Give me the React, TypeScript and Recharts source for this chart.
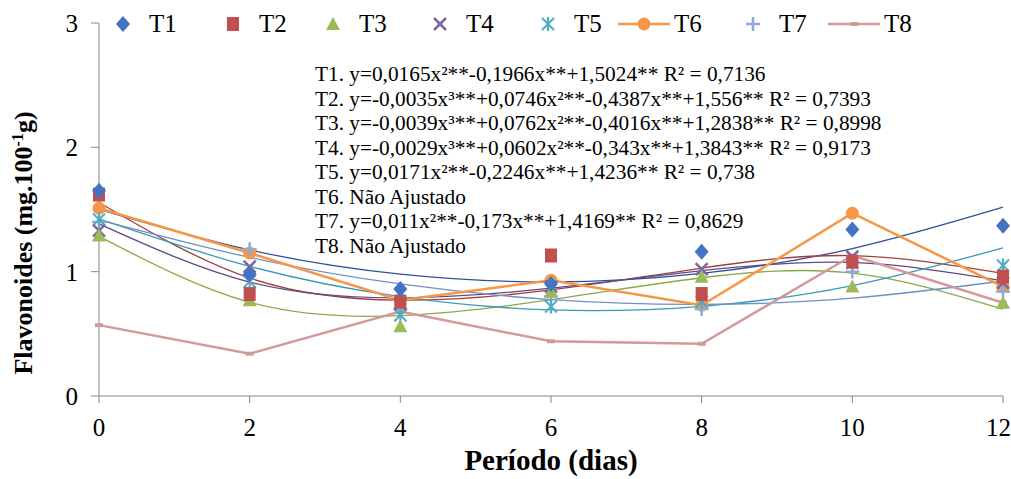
import React from "react";
import { LineChart, Line, XAxis, YAxis } from "recharts";

// sampling days
const days = [0, 2, 4, 6, 8, 10, 12];

// observed values (mg.100-1g)
const t1 = [1.65, 0.98, 0.86, 0.9, 1.16, 1.34, 1.37];
const t2 = [1.62, 0.82, 0.76, 1.13, 0.82, 1.08, 0.96];
const t3 = [1.29, 0.77, 0.56, 0.84, 0.96, 0.88, 0.75];
const t4 = [1.33, 1.04, 0.74, 0.88, 1.02, 1.12, 0.91];
const t5 = [1.42, 0.92, 0.65, 0.72, 0.76, 1.07, 1.05];
const t6 = [1.51, 1.15, 0.77, 0.93, 0.73, 1.47, 0.88];
const t7 = [1.4, 1.18, 0.7, 0.8, 0.7, 1.0, 0.84];
const t8 = [0.57, 0.34, 0.68, 0.44, 0.42, 1.13, 0.75];

// fitted values at each day, from the equations printed on the chart
const t1Fit = [1.502, 1.175, 0.98, 0.917, 0.986, 1.186, 1.519];
const t2Fit = [1.556, 0.949, 0.771, 0.853, 1.029, 1.129, 0.986];
const t3Fit = [1.284, 0.754, 0.647, 0.775, 0.951, 0.988, 0.698];
const t4Fit = [1.384, 0.916, 0.79, 0.867, 1.008, 1.074, 0.926];
const t5Fit = [1.424, 1.043, 0.799, 0.692, 0.721, 0.888, 1.191];
const t7Fit = [1.417, 1.115, 0.901, 0.775, 0.737, 0.787, 0.925];

const yTicks = [0, 1, 2, 3];

const equations = [
  "T1. y=0,0165x²**-0,1966x**+1,5024** R² = 0,7136",
  "T2. y=-0,0035x³**+0,0746x²**-0,4387x**+1,556** R² = 0,7393",
  "T3. y=-0,0039x³**+0,0762x²**-0,4016x**+1,2838** R² = 0,8998",
  "T4. y=-0,0029x³**+0,0602x²**-0,343x**+1,3843** R² = 0,9173",
  "T5. y=0,0171x²**-0,2246x**+1,4236** R² = 0,738",
  "T6. Não Ajustado",
  "T7. y=0,011x²**-0,173x**+1,4169** R² = 0,8629",
  "T8. Não Ajustado",
];

const C = {
  T1: "#4472C4",
  T2: "#C0504D",
  T3: "#9BBB59",
  T4: "#8064A2",
  T5: "#4BACC6",
  T6: "#F79646",
  T7: "#8EA9DB",
  T8: "#D4999A",
};

const data = days.map((d, i) => ({
  x: d,
  T1: t1[i], T2: t2[i], T3: t3[i], T4: t4[i],
  T5: t5[i], T6: t6[i], T7: t7[i], T8: t8[i],
  T1f: t1Fit[i], T2f: t2Fit[i], T3f: t3Fit[i], T4f: t4Fit[i],
  T5f: t5Fit[i], T7f: t7Fit[i],
}));

function Marker({ kind, x, y, color }: { kind: string; x: number; y: number; color: string }) {
  switch (kind) {
    case "diamond":
      return <path d={`M${x},${y - 8}L${x + 7},${y}L${x},${y + 8}L${x - 7},${y}Z`} fill={color} />;
    case "square":
      return <rect x={x - 6} y={y - 7} width={12} height={14} fill={color} />;
    case "triangle":
      return <path d={`M${x},${y - 7}L${x + 7},${y + 6}L${x - 7},${y + 6}Z`} fill={color} />;
    case "x":
      return (
        <g stroke={color} strokeWidth={2.5}>
          <line x1={x - 6} y1={y - 6} x2={x + 6} y2={y + 6} />
          <line x1={x - 6} y1={y + 6} x2={x + 6} y2={y - 6} />
        </g>
      );
    case "star":
      return (
        <g stroke={color} strokeWidth={2}>
          <line x1={x - 6} y1={y - 6} x2={x + 6} y2={y + 6} />
          <line x1={x - 6} y1={y + 6} x2={x + 6} y2={y - 6} />
          <line x1={x} y1={y - 7} x2={x} y2={y + 7} />
        </g>
      );
    case "circle":
      return <circle cx={x} cy={y} r={6.5} fill={color} />;
    case "plus":
      return (
        <g stroke={color} strokeWidth={2.5}>
          <line x1={x - 7} y1={y} x2={x + 7} y2={y} />
          <line x1={x} y1={y - 7} x2={x} y2={y + 7} />
        </g>
      );
    case "dash":
      return <rect x={x - 4} y={y - 2} width={8} height={4} fill={color} />;
    default:
      return null;
  }
}

const dot = (kind: string, color: string) => (props: any) => {
  const { cx, cy, index } = props;
  if (cx == null || cy == null) return <g key={`d-${kind}-${index}`} />;
  return (
    <g key={`d-${kind}-${index}`}>
      <Marker kind={kind} x={cx} y={cy} color={color} />
    </g>
  );
};

const legendItems = [
  { name: "T1", kind: "diamond", x: 115 },
  { name: "T2", kind: "square", x: 225 },
  { name: "T3", kind: "triangle", x: 325 },
  { name: "T4", kind: "x", x: 432 },
  { name: "T5", kind: "star", x: 540 },
  { name: "T6", kind: "circle", x: 618, line: true },
  { name: "T7", kind: "plus", x: 745 },
  { name: "T8", kind: "dash", x: 828, line: true },
];

const serif = "'Liberation Serif', 'Times New Roman', 'DejaVu Serif', serif";

export default function App() {
  return (
    <div style={{ position: "absolute", left: 0, top: 0, width: 1011, height: 479, background: "#fff", fontFamily: serif }}>
      <LineChart width={1011} height={479} data={data} margin={{ top: 23, right: 8, bottom: 0, left: 0 }}>
        <XAxis
          dataKey="x"
          type="number"
          domain={[0, 12]}
          ticks={days}
          height={83}
          tickSize={7}
          stroke="#868686"
          tick={{ fill: "#000", fontSize: 25, fontFamily: serif }}
          tickMargin={15}
        />
        <YAxis
          domain={[0, 3]}
          ticks={yTicks}
          width={99}
          tickSize={8}
          stroke="#868686"
          tick={{ fill: "#000", fontSize: 25, fontFamily: serif }}
          tickMargin={13}
        />
        <Line dataKey="T1f" type="natural" stroke="#2F4F9A" strokeWidth={1.3} dot={false} isAnimationActive={false} />
        <Line dataKey="T2f" type="natural" stroke="#A0403F" strokeWidth={1.3} dot={false} isAnimationActive={false} />
        <Line dataKey="T3f" type="natural" stroke="#8AAA4A" strokeWidth={1.3} dot={false} isAnimationActive={false} />
        <Line dataKey="T4f" type="natural" stroke="#5E4A85" strokeWidth={1.3} dot={false} isAnimationActive={false} />
        <Line dataKey="T5f" type="natural" stroke="#3A9AB5" strokeWidth={1.3} dot={false} isAnimationActive={false} />
        <Line dataKey="T7f" type="natural" stroke="#6F8FC8" strokeWidth={1.3} dot={false} isAnimationActive={false} />
        <Line dataKey="T8" type="linear" stroke={C.T8} strokeWidth={2.5} dot={dot("dash", C.T8)} isAnimationActive={false} />
        <Line dataKey="T6" type="linear" stroke={C.T6} strokeWidth={2.5} dot={dot("circle", C.T6)} isAnimationActive={false} />
        <Line dataKey="T7" stroke="none" dot={dot("plus", C.T7)} activeDot={false} isAnimationActive={false} />
        <Line dataKey="T5" stroke="none" dot={dot("star", C.T5)} activeDot={false} isAnimationActive={false} />
        <Line dataKey="T4" stroke="none" dot={dot("x", C.T4)} activeDot={false} isAnimationActive={false} />
        <Line dataKey="T3" stroke="none" dot={dot("triangle", C.T3)} activeDot={false} isAnimationActive={false} />
        <Line dataKey="T2" stroke="none" dot={dot("square", C.T2)} activeDot={false} isAnimationActive={false} />
        <Line dataKey="T1" stroke="none" dot={dot("diamond", C.T1)} activeDot={false} isAnimationActive={false} />
      </LineChart>

      {/* legend */}
      <svg width={1011} height={45} style={{ position: "absolute", left: 0, top: 0 }}>
        {legendItems.map((it) => {
          const color = (C as any)[it.name];
          return (
            <g key={it.name}>
              {it.line ? (
                <>
                  <line x1={it.x} y1={24} x2={it.x + 52} y2={24} stroke={color} strokeWidth={2.5} />
                  <Marker kind={it.kind} x={it.x + 26} y={24} color={color} />
                  <text x={it.x + 56} y={32} fontSize={25} fontFamily={serif} fill="#000">{it.name}</text>
                </>
              ) : (
                <>
                  <Marker kind={it.kind} x={it.x + 8} y={24} color={color} />
                  <text x={it.x + 34} y={32} fontSize={25} fontFamily={serif} fill="#000">{it.name}</text>
                </>
              )}
            </g>
          );
        })}
      </svg>

      {/* fitted equations */}
      <div style={{ position: "absolute", left: 315, top: 62, fontSize: 21.3, lineHeight: "24.5px", color: "#000", whiteSpace: "pre" }}>
        {equations.map((e) => (
          <div key={e}>{e}</div>
        ))}
      </div>

      {/* axis titles */}
      <div style={{ position: "absolute", left: 0, top: 444, width: 1102, textAlign: "center", fontSize: 29, fontWeight: "bold" }}>
        Período (dias)
      </div>
      <div
        style={{
          position: "absolute",
          left: 24,
          top: 243,
          transform: "translate(-50%, -50%) rotate(-90deg)",
          fontSize: 26,
          fontWeight: "bold",
          whiteSpace: "pre",
        }}
      >
        Flavonoides (mg.100<sup style={{ fontSize: 16 }}>-1</sup>g)
      </div>
    </div>
  );
}
